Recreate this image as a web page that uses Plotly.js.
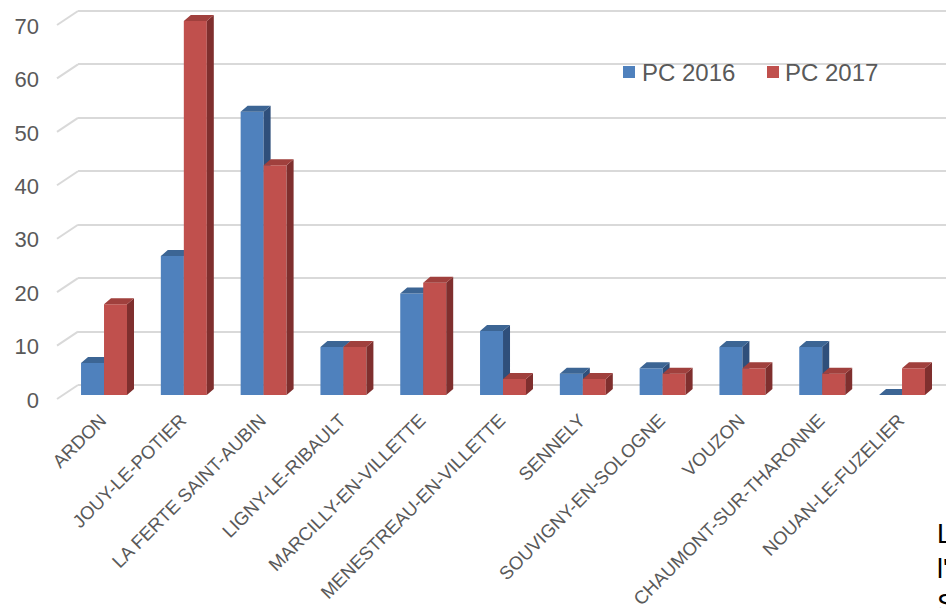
<!DOCTYPE html>
<html>
<head>
<meta charset="utf-8">
<script src="https://cdn.plot.ly/plotly-3.0.1.min.js"></script>
<style>html,body{margin:0;padding:0;background:#fff;}#chart{width:946px;height:608px;}</style>
</head>
<body>
<div id="chart"></div>
<script>
// ---- data ----
const categories = ["ARDON","JOUY-LE-POTIER","LA FERTE SAINT-AUBIN","LIGNY-LE-RIBAULT","MARCILLY-EN-VILLETTE","MENESTREAU-EN-VILLETTE","SENNELY","SOUVIGNY-EN-SOLOGNE","VOUZON","CHAUMONT-SUR-THARONNE","NOUAN-LE-FUZELIER"];
const pc2016 = [6, 26, 53, 9, 19, 12, 4, 5, 9, 9, 0];
const pc2017 = [17, 70, 43, 9, 21, 3, 3, 4, 5, 4, 5];
const seriesNames = ["PC 2016", "PC 2017"];
const yTicks = [0, 10, 20, 30, 40, 50, 60, 70];

// ---- geometry / style ----
const BAR_W = 0.288;      // front face width (category units)
const DX = 0.0877;        // depth offset in x (category units)
const DY = 1.123;         // depth offset in y (value units)
const FONT = "Liberation Sans, Arial, sans-serif";
const colors = {
  blue: {front: "#4F81BD", top: "#3C6594", side: "#2F4F7B"},
  red:  {front: "#C0504D", top: "#A0403D", side: "#7F2F2E"}
};
const idx = categories.map((_, i) => i);
const PLOT_L = 78, PLOT_W = 868, PLOT_H = 400;

function sidePoly(vals, off) {
  const xs = [], ys = [];
  vals.forEach((v, i) => {
    const xr = i + off + BAR_W;
    xs.push(xr, xr + DX, xr + DX, xr, xr, null);
    ys.push(0, DY, v + DY, v, 0, null);
  });
  return {x: xs, y: ys};
}
function topPoly(vals, off) {
  const xs = [], ys = [];
  vals.forEach((v, i) => {
    const xl = i + off, xr = xl + BAR_W;
    xs.push(xl, xl + DX, xr + DX, xr, xl, null);
    ys.push(v, v + DY, v + DY, v, v, null);
  });
  return {x: xs, y: ys};
}

function seriesTraces(vals, off, c, name, yax) {
  const s = sidePoly(vals, off), t = topPoly(vals, off);
  return [
    {type: "bar", x: idx, y: vals, offset: off, width: BAR_W, name: name, yaxis: yax,
     marker: {color: c.front, line: {width: 0}}, hoverinfo: "y", showlegend: false},
    {type: "scatter", x: s.x, y: s.y, mode: "lines", fill: "toself", fillcolor: c.side,
     line: {width: 0, color: c.side}, yaxis: yax, showlegend: false, hoverinfo: "skip"},
    {type: "scatter", x: t.x, y: t.y, mode: "lines", fill: "toself", fillcolor: c.top,
     line: {width: 0, color: c.top}, yaxis: yax, showlegend: false, hoverinfo: "skip"}
  ];
}

const data = [].concat(
  seriesTraces(pc2016, -BAR_W, colors.blue, seriesNames[0], "y2"),
  seriesTraces(pc2017, 0, colors.red, seriesNames[1], "y3")
);

const PX_PER_UNIT = 5.343;
const backRange = [-2.807, 72.06];
const frontRange = [-0.936, 73.93];

const px = p => (p - PLOT_L) / PLOT_W;   // page x pixel -> paper
const py = p => (PLOT_H - p) / PLOT_H;   // page y pixel -> paper

const shapes = yTicks.map(v => ({
  type: "line", xref: "paper", yref: "y",
  x0: -21 / PLOT_W, y0: v - 14 / PX_PER_UNIT, x1: 0, y1: v,
  line: {color: "#D9D9D9", width: 2}, layer: "below"
}));

// custom legend (squares + labels)
const legendPos = [{sq: 623, tx: 640}, {sq: 767, tx: 783}];
const legendColors = [colors.blue.front, colors.red.front];
legendPos.forEach((p, k) => {
  shapes.push({type: "rect", xref: "paper", yref: "paper",
    x0: px(p.sq), x1: px(p.sq + 12), y0: py(78), y1: py(66),
    fillcolor: legendColors[k], line: {width: 0}});
});
const annotations = seriesNames.map((n, k) => ({
  xref: "paper", yref: "paper", x: px(legendPos[k].tx), y: py(72),
  xanchor: "left", yanchor: "middle", text: n, showarrow: false,
  font: {size: 24, color: "#595959", family: FONT}
}));
annotations.push({xref: "paper", yref: "paper", x: px(935), y: py(517), xanchor: "left", yanchor: "top",
  text: "L<br>l'<br>S", showarrow: false, align: "left",
  font: {size: 27, color: "#000", family: FONT}});

const layout = {
  width: 946, height: 608,
  margin: {l: PLOT_L, r: 0, t: 0, b: 608 - PLOT_H},
  paper_bgcolor: "#fff", plot_bgcolor: "rgba(0,0,0,0)",
  barmode: "overlay",
  font: {family: FONT, color: "#595959"},
  showlegend: false,
  xaxis: {range: [-0.326, 10.551], tickvals: idx, ticktext: categories, tickangle: -45,
          showgrid: false, zeroline: false, showline: false, ticks: "",
          ticklabelstandoff: 5, ticklabelshift: -3,
          tickfont: {size: 18.5, color: "#595959", family: FONT}},
  yaxis: {range: backRange, tickvals: yTicks, showgrid: true, gridcolor: "#D9D9D9", gridwidth: 2,
          zeroline: false, showline: false, ticks: "", ticklabelshift: 15, ticklabelstandoff: 38,
          tickfont: {size: 22, color: "#595959", family: FONT}},
  yaxis2: {range: frontRange, overlaying: "y", visible: false},
  yaxis3: {range: frontRange, overlaying: "y", visible: false},
  shapes: shapes,
  annotations: annotations
};

Plotly.newPlot("chart", data, layout, {displayModeBar: false, staticPlot: true});
</script>
</body>
</html>
